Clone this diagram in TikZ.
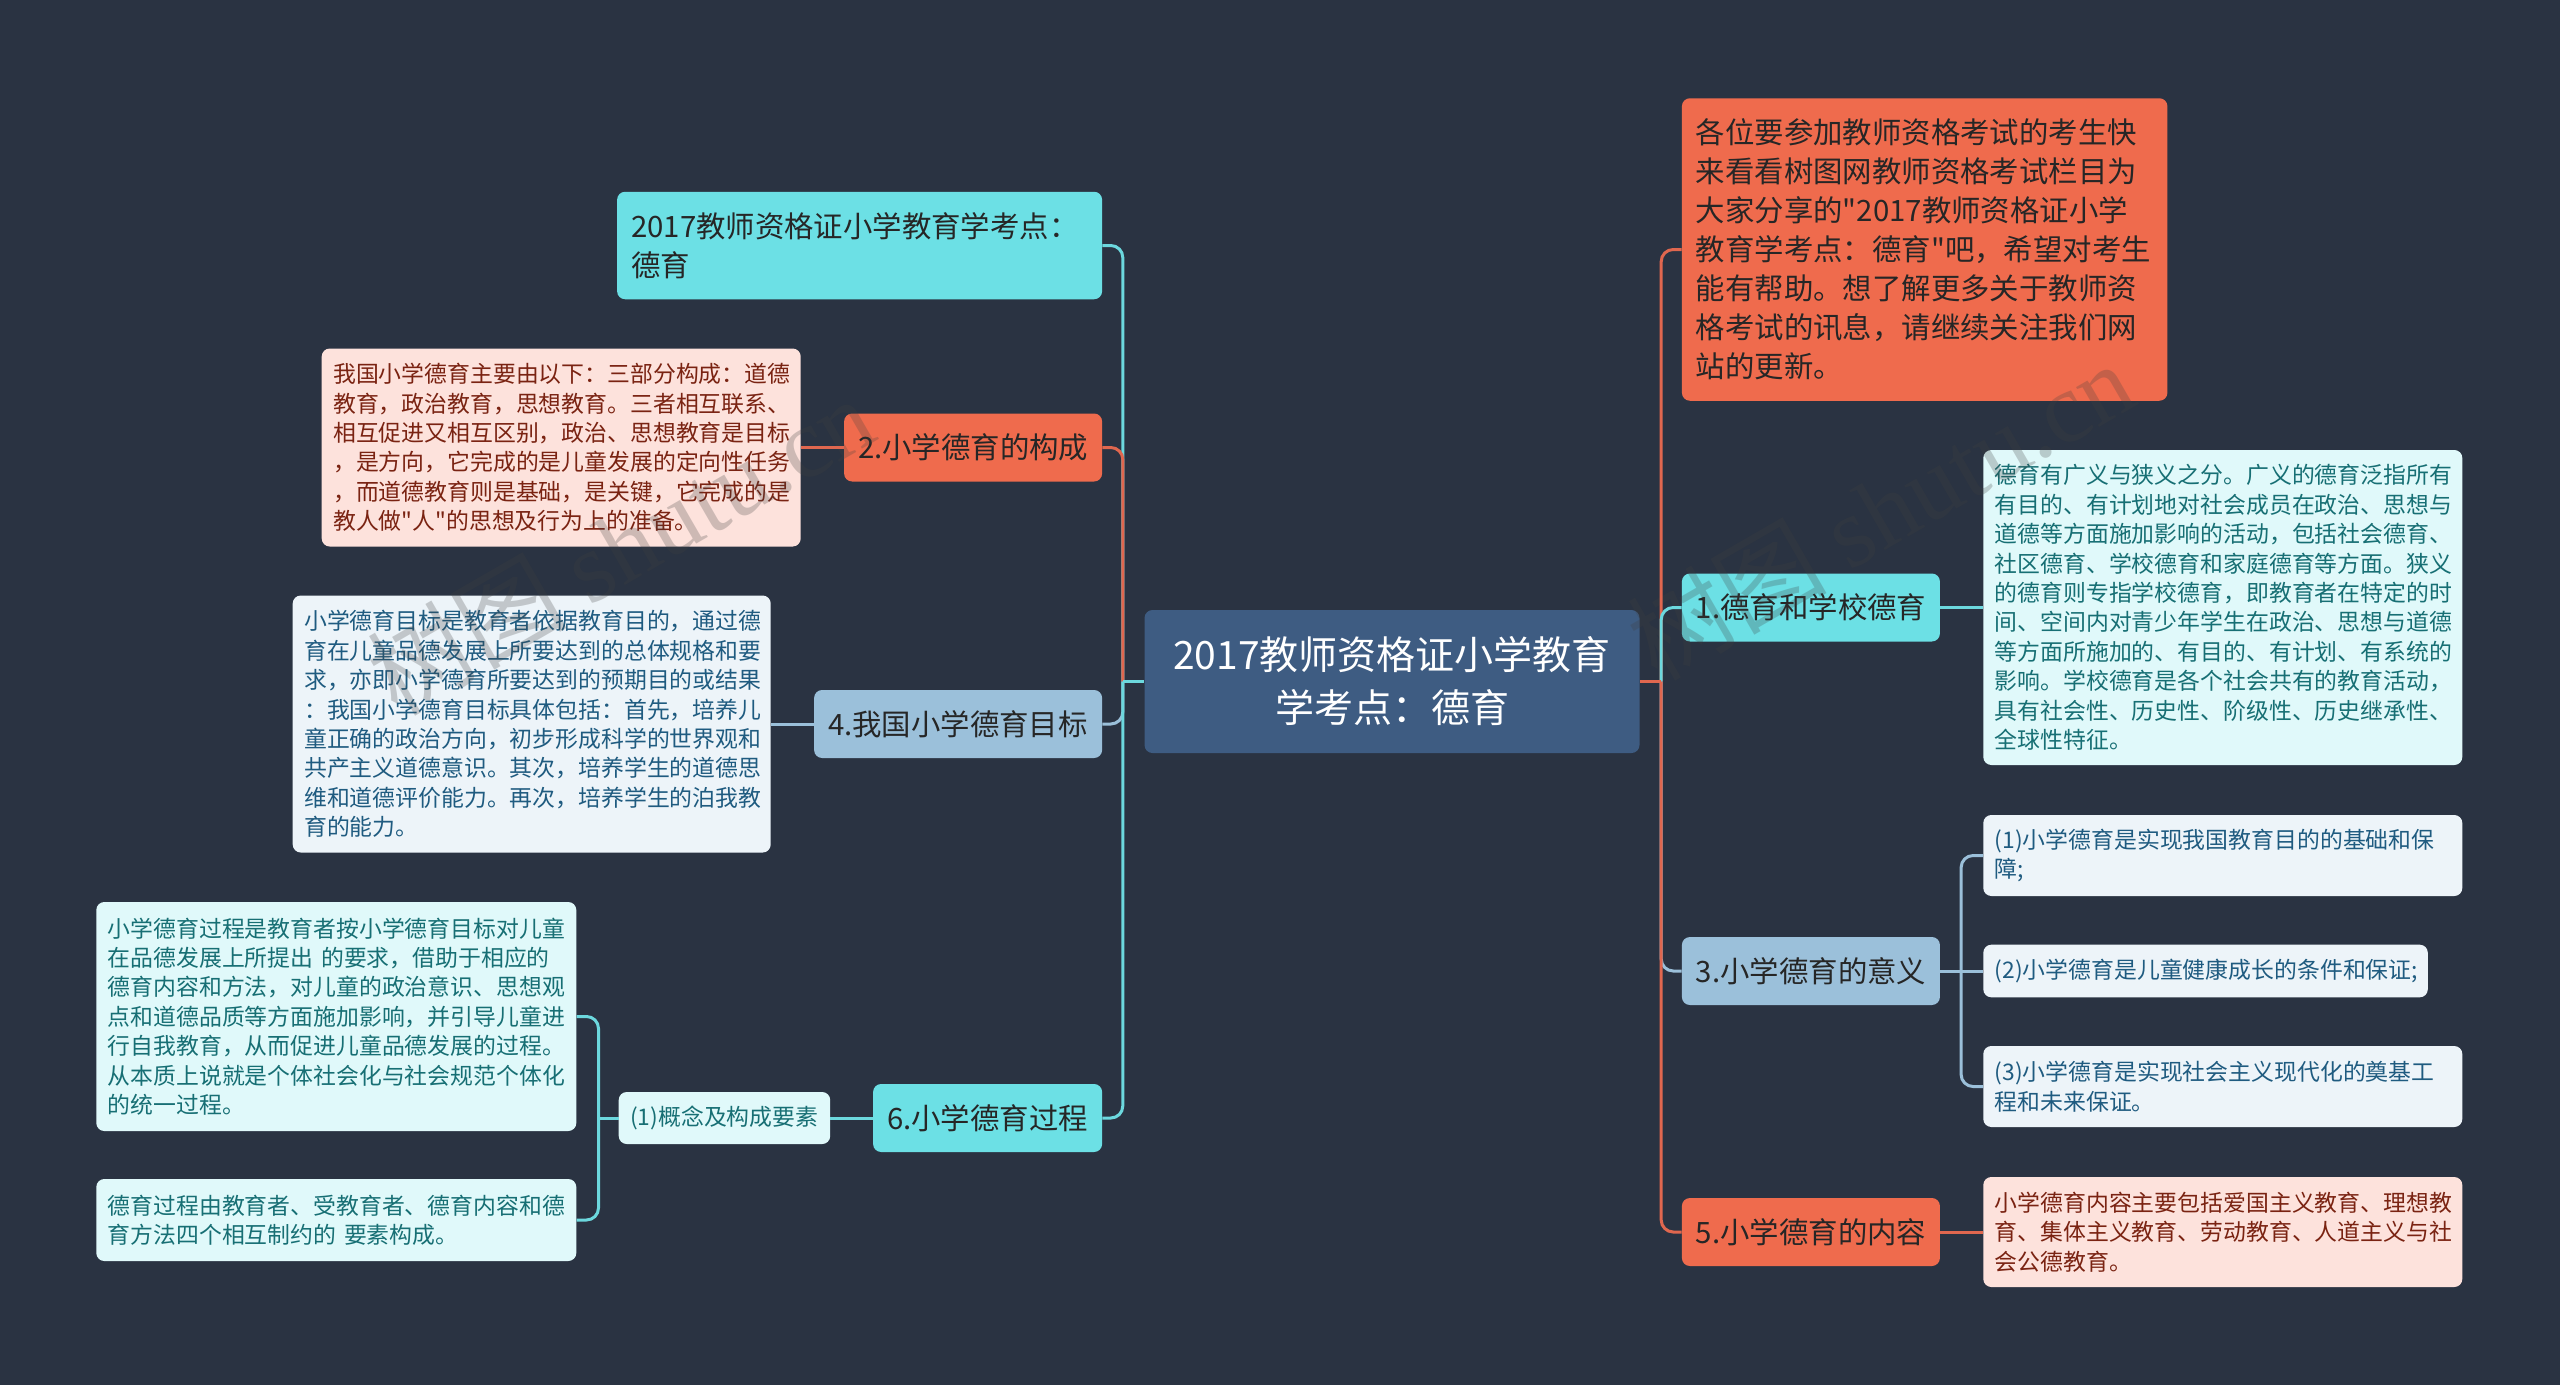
\documentclass[tikz,border=0pt]{standalone}
\usepackage{fontspec}
\setmainfont[Ligatures=TeXOff]{Noto Sans CJK SC}
\newfontfamily\markfont{Liberation Serif}
\usetikzlibrary{positioning}
\definecolor{pagebg}{HTML}{2A3342}
\definecolor{rootfill}{HTML}{3E5C82}
\definecolor{coral}{HTML}{EF6B4D}
\definecolor{aqua}{HTML}{6CE0E5}
\definecolor{sky}{HTML}{9BC0DA}
\definecolor{coralwire}{HTML}{E0674F}
\definecolor{aquawire}{HTML}{6CD8DE}
\definecolor{skywire}{HTML}{9BC0DA}
\definecolor{coralleaf}{HTML}{FDE2DC}
\definecolor{aqualeaf}{HTML}{E0F9FA}
\definecolor{skyleaf}{HTML}{EDF4F9}
\definecolor{coraltext}{HTML}{7A2312}
\definecolor{aquatext}{HTML}{176F74}
\definecolor{skytext}{HTML}{1F5B80}
\begin{document}
\begin{tikzpicture}[x=1pt, y=1pt,
	block/.style = { rectangle, rounded corners=8pt, align=left, inner ysep=0pt},
	branch/.style = { block, inner xsep=14pt, minimum height=68pt, text=black!85,
	font=\fontsize{29.4}{39}\selectfont},
	leaf/.style = { block, inner xsep=11.5pt, font=\fontsize{22.86}{29.4}\selectfont},
	wire/.style = { line width=3pt, rounded corners=12pt},
	stamp/.style = { rotate=30, opacity=0.25, text=black!75, font=\fontsize{100}{100}\selectfont} ]

  \fill [pagebg] (0,0) rectangle (2560,-1385);

  \node [name=root, block, fill=rootfill, text=white, align=center, inner xsep=14pt, text width=467pt,
	minimum height=143pt, font=\fontsize{39}{53}\selectfont] at (1392,-681.5)
	{ 2017教师资格证小学教育\\学考点：德育 };

  % right side
  \node [name=intro, branch, fill=coral, text width=457.5pt, minimum height=302.5pt,
	right=42pt of root, yshift=432pt]
	{各位要参加教师资格考试的考生快\\来看看树图网教师资格考试栏目为\\大家分享的"2017教师资格证小学\\教育学考点：德育"吧，希望对考生\\能有帮助。想了解更多关于教师资\\格考试的讯息，请继续关注我们网\\站的更新。};
  \node [name=sec1, branch, fill=aqua, text width=230pt, right=42pt of root, yshift=74pt]
	{1.德育和学校德育};
  \node [name=sec3, branch, fill=sky, text width=230pt, right=42pt of root, yshift=-289.5pt]
	{3.小学德育的意义};
  \node [name=sec5, branch, fill=coral, text width=230pt, right=42pt of root, yshift=-550.5pt]
	{5.小学德育的内容};

  \node [name=leaf1, leaf, fill=aqualeaf, text=aquatext, text width=456pt, minimum height=315pt,
	right=43pt of sec1]
	{德育有广义与狭义之分。广义的德育泛指所有\\有目的、有计划地对社会成员在政治、思想与\\道德等方面施加影响的活动，包括社会德育、\\社区德育、学校德育和家庭德育等方面。狭义\\的德育则专指学校德育，即教育者在特定的时\\间、空间内对青少年学生在政治、思想与道德\\等方面所施加的、有目的、有计划、有系统的\\影响。学校德育是各个社会共有的教育活动，\\具有社会性、历史性、阶级性、历史继承性、\\全球性特征。};
  \node [name=mean1, leaf, fill=skyleaf, text=skytext, text width=456pt, minimum height=81pt,
	right=43pt of sec3, yshift=115.5pt]
	{(1)小学德育是实现我国教育目的的基础和保\\障;};
  \node [name=mean2, leaf, fill=skyleaf, text=skytext, text width=421.5pt, minimum height=52.6pt,
	right=43pt of sec3]
	{(2)小学德育是儿童健康成长的条件和保证;};
  \node [name=mean3, leaf, fill=skyleaf, text=skytext, text width=456pt, minimum height=81pt,
	right=43pt of sec3, yshift=-115.5pt]
	{(3)小学德育是实现社会主义现代化的奠基工\\程和未来保证。};
  \node [name=leaf5, leaf, fill=coralleaf, text=coraltext, text width=456pt, minimum height=110pt,
	right=43pt of sec5]
	{小学德育内容主要包括爱国主义教育、理想教\\育、集体主义教育、劳动教育、人道主义与社\\会公德教育。};

  % left side
  \node [name=title, branch, fill=aqua, text width=457pt, minimum height=107.5pt,
	left=42pt of root, yshift=436pt]
	{2017教师资格证小学教育学考点：\\德育};
  \node [name=sec2, branch, fill=coral, text width=230pt, left=42pt of root, yshift=234pt]
	{2.小学德育的构成};
  \node [name=sec4, branch, fill=sky, text width=260pt, left=42pt of root, yshift=-42.5pt]
	{4.我国小学德育目标};
  \node [name=sec6, branch, fill=aqua, text width=201pt, left=42pt of root, yshift=-436.5pt]
	{6.小学德育过程};

  \node [name=leaf2, leaf, fill=coralleaf, text=coraltext, text width=456pt, minimum height=198pt,
	left=43pt of sec2]
	{我国小学德育主要由以下：三部分构成：道德\\教育，政治教育，思想教育。三者相互联系、\\相互促进又相互区别，政治、思想教育是目标\\，是方向，它完成的是儿童发展的定向性任务\\，而道德教育则是基础，是关键，它完成的是\\教人做"人"的思想及行为上的准备。};
  \node [name=leaf4, leaf, fill=skyleaf, text=skytext, text width=455pt, minimum height=257pt,
	left=43pt of sec4]
	{小学德育目标是教育者依据教育目的，通过德\\育在儿童品德发展上所要达到的总体规格和要\\求，亦即小学德育所要达到的预期目的或结果\\：我国小学德育目标具体包括：首先，培养儿\\童正确的政治方向，初步形成科学的世界观和\\共产主义道德意识。其次，培养学生的道德思\\维和道德评价能力。再次，培养学生的泊我教\\育的能力。};
  \node [name=concept, leaf, fill=aqualeaf, text=aquatext, text width=188.5pt, minimum height=52pt,
	left=42.5pt of sec6]
	{(1)概念及构成要素};
  \node [name=proc1, leaf, fill=aqualeaf, text=aquatext, text width=457pt, minimum height=229pt,
	left=42pt of concept, yshift=101.5pt]
	{小学德育过程是教育者按小学德育目标对儿童\\在品德发展上所提出 的要求，借助于相应的\\德育内容和方法，对儿童的政治意识、思想观\\点和道德品质等方面施加影响，并引导儿童进\\行自我教育，从而促进儿童品德发展的过程。\\从本质上说就是个体社会化与社会规范个体化\\的统一过程。};
  \node [name=proc2, leaf, fill=aqualeaf, text=aquatext, text width=457pt, minimum height=82pt,
	left=42pt of concept, yshift=-102pt]
	{德育过程由教育者、受教育者、德育内容和德\\育方法四个相互制约的 要素构成。};

  % faint marks across the boxes
  \node [name=stampl, stamp] at (620,-545) {树图 {\markfont shutu.cn}};
  \node [name=stampr, stamp] at (1880,-510) {树图 {\markfont shutu.cn}};

  % junctions on the trunks
  \coordinate [left=21.5pt of root] (ltrunk);
  \coordinate [right=21.5pt of root] (rtrunk);
  \coordinate [right=21pt of sec3] (meanjoin);
  \coordinate [left=20pt of concept] (procjoin);

  \draw [wire, aquawire] (title.east) -| (ltrunk);
  \draw [wire, coralwire] (sec2.east) -| (ltrunk);
  \draw [wire, skywire] (sec4.east) -| (ltrunk);
  \draw [wire, aquawire] (sec6.east) -| (ltrunk);
  \draw [wire, aquawire] (ltrunk) -- (root.west);

  \draw [wire, coralwire] (intro.west) -| (rtrunk);
  \draw [wire, aquawire] (sec1.west) -| (rtrunk);
  \draw [wire, skywire] (sec3.west) -| (rtrunk);
  \draw [wire, coralwire] (sec5.west) -| (rtrunk);
  \draw [wire, coralwire] (rtrunk) -- (root.east);

  \draw [wire, aquawire] (sec1) -- (leaf1);
  \draw [wire, skywire] (sec3) -- (mean2);
  \draw [wire, skywire] (mean1.west) -| (meanjoin);
  \draw [wire, skywire] (mean3.west) -| (meanjoin);
  \draw [wire, coralwire] (sec5) -- (leaf5);

  \draw [wire, coralwire] (sec2) -- (leaf2);
  \draw [wire, skywire] (sec4) -- (leaf4);
  \draw [wire, aquawire] (sec6) -- (concept);
  \draw [wire, aquawire] (concept) -- (procjoin);
  \draw [wire, aquawire] (proc1.east) -| (procjoin);
  \draw [wire, aquawire] (proc2.east) -| (procjoin);
\end{tikzpicture}
\end{document}
